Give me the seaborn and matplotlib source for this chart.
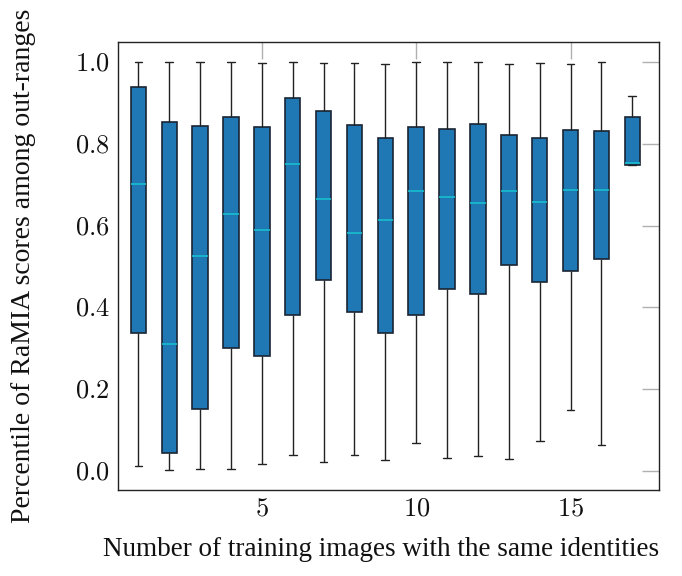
import numpy as np
import pandas as pd
import matplotlib
matplotlib.use("Agg")
import matplotlib.pyplot as plt
import seaborn as sns

# Number of training images with the same identities
n_images = [1, 2, 3, 4, 5, 6, 7, 8, 9, 10, 11, 12, 13, 14, 15, 16, 17]
# Box statistics
whisker_low = [0.012, 0.001, 0.004, 0.005, 0.015, 0.038, 0.021, 0.038, 0.026,
               0.068, 0.030, 0.035, 0.029, 0.072, 0.148, 0.062, 0.749]
q1 = [0.338, 0.043, 0.152, 0.300, 0.281, 0.382, 0.468, 0.388, 0.338,
      0.380, 0.446, 0.432, 0.504, 0.463, 0.490, 0.518, 0.749]
median = [0.702, 0.310, 0.525, 0.629, 0.590, 0.750, 0.665, 0.582, 0.615,
          0.686, 0.670, 0.656, 0.686, 0.658, 0.688, 0.688, 0.753]
q3 = [0.939, 0.854, 0.845, 0.867, 0.842, 0.912, 0.880, 0.847, 0.816,
      0.842, 0.836, 0.848, 0.823, 0.816, 0.835, 0.832, 0.866]
whisker_high = [1.000, 1.000, 1.000, 1.000, 0.998, 1.000, 0.999, 0.999, 0.996,
                1.000, 1.000, 1.000, 0.997, 0.998, 0.997, 1.000, 0.919]

rows = []
for i, n in enumerate(n_images):
    for v in (whisker_low[i], q1[i], median[i], q3[i], whisker_high[i]):
        rows.append({"n": n, "score": v})
df = pd.DataFrame(rows)

sns.set_theme(style="white")
plt.rcParams["font.family"] = ["Liberation Serif", "DejaVu Serif"]
plt.rcParams["mathtext.fontset"] = "cm"

fig = plt.figure(figsize=(6.82, 5.76), dpi=100)
ax = fig.add_axes([0.173, 0.149, 0.793, 0.778])

sns.boxplot(data=df, x="n", y="score", native_scale=True, whis=(0, 100),
            width=0.5, color="#1f77b4", saturation=1, fliersize=0, ax=ax,
            boxprops=dict(facecolor="#1f77b4", edgecolor="#1a2533", linewidth=1.2),
            medianprops=dict(color="#17becf", linewidth=1.2),
            whiskerprops=dict(color="#222222", linewidth=1.0),
            capprops=dict(color="#222222", linewidth=1.0))

ax.set_xlim(0.34, 17.86)
ax.set_ylim(-0.048, 1.05)
ax.set_xticks([5, 10, 15])
ax.set_yticks([0.0, 0.2, 0.4, 0.6, 0.8, 1.0])
ax.set_xticklabels([f"${v}$" for v in [5, 10, 15]])
ax.set_yticklabels([f"${v:.1f}$" for v in [0.0, 0.2, 0.4, 0.6, 0.8, 1.0]])
ax.tick_params(axis="both", which="both", direction="in", length=12, width=1,
               color="#b0b0b0", labelsize=19, top=True, right=True,
               labelcolor="#111111", pad=6)
for s in ax.spines.values():
    s.set_color("#222222")
    s.set_linewidth(1.0)
    s.set_visible(True)

ax.set_xlabel("Number of training images with the same identities", fontsize=19.5,
              color="#111111")
ax.xaxis.set_label_coords(0.487, -0.105)
ax.set_ylabel("Percentile of RaMIA scores among out-ranges", fontsize=20,
              color="#111111", labelpad=28)

fig.savefig("out.png", dpi=100)
